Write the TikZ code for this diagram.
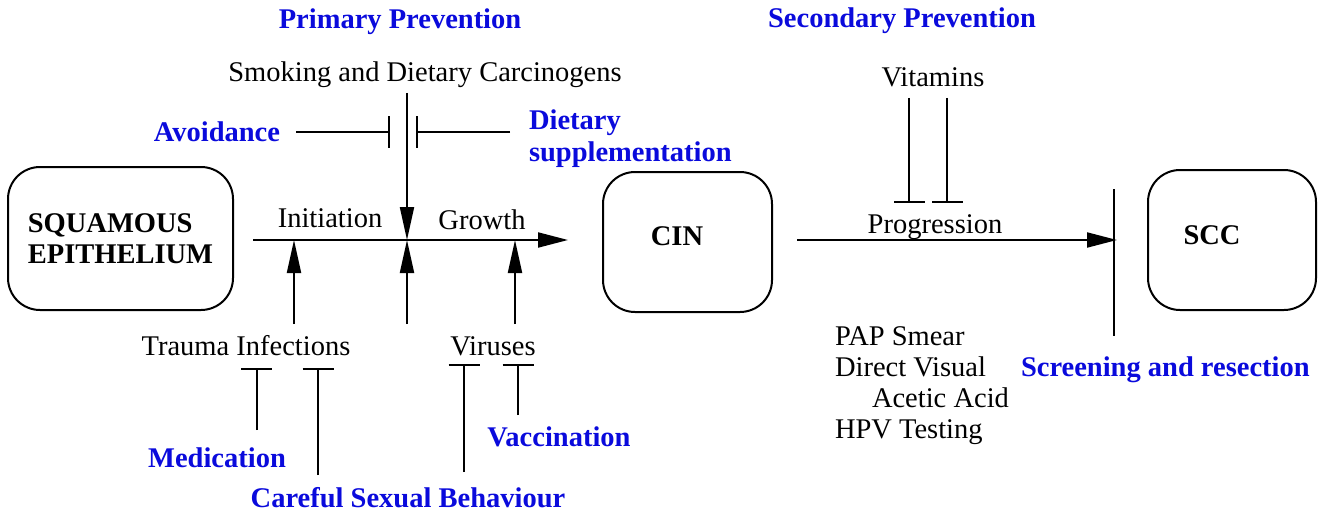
\documentclass[tikz,border=0pt]{standalone}
\usepackage{fontspec}
\setmainfont{Liberation Serif}
\usetikzlibrary{arrows.meta}
\definecolor{prevblue}{RGB}{10,10,220}
\begin{document}
\begin{tikzpicture}[x=1pt,y=-1pt,
  every node/.style={inner sep=0pt, outer sep=0pt, font=\fontsize{28.5}{31}\selectfont},
  txt/.style={anchor=base},
  txtl/.style={anchor=base west},
  prev/.style={anchor=base, text=prevblue, font=\fontsize{28.5}{31}\selectfont\bfseries},
  stage/.style={draw, line width=2pt, rounded corners=32pt, align=left,
                font=\fontsize{28.5}{31}\selectfont\bfseries},
  link/.style={line width=2pt},
  promote/.style={line width=2pt, -{Triangle[length=33pt,width=14pt]}},
  advance/.style={line width=2pt, -{Triangle[length=30pt,width=15pt]}},
  block/.style={line width=2pt, -{Bar[width=31pt]}},
]
\useasboundingbox (0,0) rectangle (1327,516);

% headings
\node[prev] (pp) at (400,29) {Primary Prevention};
\node[prev] (sp) at (902,28) {Secondary Prevention};

% stages
\node[stage, minimum width=225pt, minimum height=143pt] (se) at (120.5,238.5)
  {SQUAMOUS\\EPITHELIUM};
\node[stage, minimum width=169pt, minimum height=140pt] (cin) at (687.5,242) {};
\node[font=\fontsize{28.5}{31}\selectfont\bfseries, anchor=base] (cint) at (677,245) {CIN};
\node[stage, minimum width=168pt, minimum height=140pt] (scc) at (1232,240) {};
\node[font=\fontsize{28.5}{31}\selectfont\bfseries, anchor=base] (scct) at (1212,244) {SCC};

% texts
\node[txt] (smoke) at (425,82) {Smoking and Dietary Carcinogens};
\node[prev, anchor=base east] (avoid) at (280,141) {Avoidance};
\node[prev, anchor=base west] (diet1) at (529,130) {Dietary};
\node[prev, anchor=base west] (diet2) at (529,161) {supplementation};
\node[txt] (init) at (330,227) {Initiation};
\node[txt] (grow) at (482,229) {Growth};
\node[txt] (prog) at (935,233) {Progression};
\node[txt] (vit) at (933,87) {Vitamins};
\node[txt] (trauma) at (246,355) {Trauma Infections};
\node[txt] (vir) at (493,355) {Viruses};
\node[txtl] (pap) at (835,345) {PAP Smear};
\node[txtl] (dv) at (835,376) {Direct Visual};
\node[txtl] (aa) at (872,407) {Acetic Acid};
\node[txtl] (hpv) at (835,438) {HPV Testing};
\node[prev, anchor=base west] (screen) at (1021,376) {Screening and resection};
\node[prev] (med) at (217,467) {Medication};
\node[prev] (vac) at (559,446) {Vaccination};
\node[prev] (csb) at (408,507) {Careful Sexual Behaviour};

% junctions on the growth axis
\coordinate (axisL) at (253,240);
\coordinate (axisR) at (568,240);
\coordinate (jA) at (294,240);
\coordinate (jB) at (407,240);
\coordinate (jC) at (515,240);

% growth axis and progression
\draw[advance] (axisL) -- (axisR);
\coordinate (progL) at (797,240);
\coordinate (progR) at (1117,240);
\draw[advance] (progL) -- (progR);
\coordinate (scrT) at (1114,189);
\coordinate (scrB) at (1114,336);
\draw[link] (scrT) -- (scrB);

% carcinogens acting on the axis
\coordinate (smokeS) at (407,93);
\draw[promote] (smokeS) -- (jB);

% avoidance and dietary supplementation
\coordinate (avL) at (296,132);
\coordinate (avR) at (390,132);
\draw[block] (avL) -- (avR);
\coordinate (dtL) at (416,132);
\coordinate (dtR) at (510,132);
\draw[block] (dtR) -- (dtL);

% factors from below
\coordinate (upA) at (294,324);
\coordinate (upB) at (407,324);
\coordinate (upC) at (515,324);
\draw[promote] (upA) -- (jA);
\draw[promote] (upB) -- (jB);
\draw[promote] (upC) -- (jC);

% inhibitors below
\coordinate (m1) at (256.5,430);  \coordinate (m1t) at (256.5,368);
\coordinate (c1) at (318,475);    \coordinate (c1t) at (318,368);
\coordinate (c2) at (464,472);    \coordinate (c2t) at (464,364);
\coordinate (v1) at (518,415);    \coordinate (v1t) at (518,364);
\draw[block] (m1) -- (m1t);
\draw[block] (c1) -- (c1t);
\draw[block] (c2) -- (c2t);
\draw[block] (v1) -- (v1t);

% vitamins acting on progression
\coordinate (vt1) at (909,98);  \coordinate (vb1) at (909,203);
\coordinate (vt2) at (947,98);  \coordinate (vb2) at (947,203);
\draw[block] (vt1) -- (vb1);
\draw[block] (vt2) -- (vb2);
\end{tikzpicture}
\end{document}
